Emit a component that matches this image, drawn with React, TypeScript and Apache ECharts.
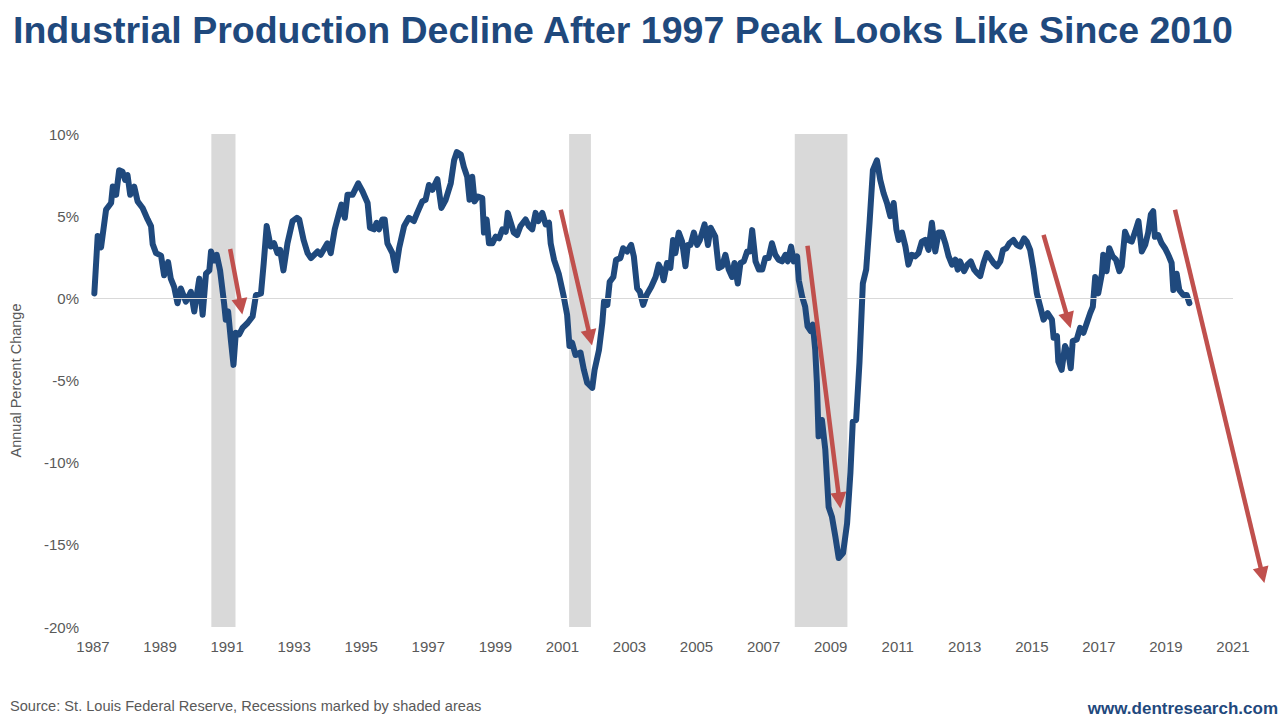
import React, { useEffect, useRef } from "react";
import * as echarts from "echarts";

const TITLE = "Industrial Production Decline After 1997 Peak Looks Like Since 2010";
const SOURCE = "Source: St. Louis Federal Reserve, Recessions marked by shaded areas";
const SITE = "www.dentresearch.com";
const Y_NAME = "Annual Percent Change";

// time (fractional year)
const dates: number[] = [
  1987.04, 1987.14, 1987.24, 1987.39, 1987.54, 1987.59, 1987.69, 1987.78, 1987.88, 1987.96,
  1988.03, 1988.11, 1988.23, 1988.33, 1988.48, 1988.63, 1988.73, 1988.78, 1988.88, 1989.03,
  1989.12, 1989.24, 1989.32, 1989.42, 1989.52, 1989.62, 1989.77, 1989.92, 1990.02, 1990.17,
  1990.27, 1990.37, 1990.47, 1990.52, 1990.61, 1990.69, 1990.79, 1990.91, 1990.96, 1991.03,
  1991.11, 1991.19, 1991.26, 1991.36, 1991.46, 1991.61, 1991.76, 1991.86, 1992.01, 1992.09,
  1992.18, 1992.3, 1992.4, 1992.5, 1992.58, 1992.68, 1992.8, 1992.95, 1993.08, 1993.15,
  1993.28, 1993.4, 1993.5, 1993.7, 1993.79, 1993.99, 1994.09, 1994.21, 1994.34, 1994.41,
  1994.51, 1994.59, 1994.74, 1994.91, 1995.04, 1995.19, 1995.26, 1995.38, 1995.46, 1995.53,
  1995.63, 1995.7, 1995.78, 1995.93, 1996.03, 1996.13, 1996.28, 1996.42, 1996.57, 1996.67,
  1996.82, 1996.92, 1997.02, 1997.12, 1997.27, 1997.39, 1997.52, 1997.67, 1997.77, 1997.85,
  1997.97, 1998.06, 1998.16, 1998.23, 1998.31, 1998.38, 1998.48, 1998.61, 1998.66, 1998.74,
  1998.81, 1998.91, 1999.01, 1999.11, 1999.21, 1999.31, 1999.37, 1999.46, 1999.55, 1999.65,
  1999.75, 1999.9, 2000.0, 2000.1, 2000.2, 2000.28, 2000.4, 2000.5, 2000.6, 2000.65,
  2000.75, 2000.89, 2001.04, 2001.14, 2001.21, 2001.29, 2001.39, 2001.54, 2001.64, 2001.74,
  2001.89, 2001.96, 2002.09, 2002.19, 2002.24, 2002.34, 2002.41, 2002.52, 2002.6, 2002.73,
  2002.81, 2002.93, 2003.05, 2003.13, 2003.23, 2003.31, 2003.41, 2003.51, 2003.65, 2003.78,
  2003.87, 2003.95, 2004.02, 2004.12, 2004.22, 2004.3, 2004.37, 2004.47, 2004.57, 2004.67,
  2004.74, 2004.82, 2004.92, 2005.02, 2005.1, 2005.24, 2005.34, 2005.42, 2005.56, 2005.66,
  2005.76, 2005.86, 2005.96, 2006.06, 2006.13, 2006.23, 2006.31, 2006.41, 2006.51, 2006.59,
  2006.66, 2006.76, 2006.86, 2006.96, 2007.05, 2007.15, 2007.25, 2007.35, 2007.45, 2007.55,
  2007.65, 2007.72, 2007.82, 2007.9, 2008.0, 2008.05, 2008.15, 2008.24, 2008.31, 2008.41,
  2008.47, 2008.54, 2008.59, 2008.64, 2008.74, 2008.84, 2008.94, 2009.04, 2009.14, 2009.24,
  2009.37, 2009.49, 2009.59, 2009.66, 2009.76, 2009.86, 2009.96, 2010.06, 2010.16, 2010.26,
  2010.38, 2010.48, 2010.58, 2010.68, 2010.78, 2010.88, 2010.96, 2011.03, 2011.13, 2011.23,
  2011.32, 2011.42, 2011.52, 2011.62, 2011.72, 2011.82, 2011.92, 2012.02, 2012.12, 2012.22,
  2012.32, 2012.42, 2012.52, 2012.62, 2012.72, 2012.79, 2012.86, 2012.98, 2013.08, 2013.18,
  2013.28, 2013.36, 2013.46, 2013.56, 2013.66, 2013.76, 2013.86, 2013.96, 2014.06, 2014.14,
  2014.24, 2014.33, 2014.45, 2014.55, 2014.65, 2014.77, 2014.85, 2014.95, 2015.05, 2015.15,
  2015.25, 2015.35, 2015.47, 2015.6, 2015.65, 2015.75, 2015.79, 2015.89, 2015.99, 2016.09,
  2016.16, 2016.22, 2016.34, 2016.44, 2016.54, 2016.64, 2016.74, 2016.82, 2016.89, 2016.98,
  2017.09, 2017.13, 2017.23, 2017.31, 2017.41, 2017.51, 2017.61, 2017.68, 2017.78, 2017.88,
  2017.98, 2018.08, 2018.18, 2018.28, 2018.38, 2018.47, 2018.55, 2018.62, 2018.67, 2018.77,
  2018.87, 2018.97, 2019.07, 2019.17, 2019.22, 2019.32, 2019.4, 2019.52, 2019.62, 2019.7,
];

// annual percent change of industrial production
const changes: number[] = [
  0.3, 3.8, 3.1, 5.4, 5.8, 6.8, 6.3, 7.8, 7.7, 7.2,
  7.5, 6.3, 6.8, 5.9, 5.5, 4.8, 4.4, 3.3, 2.75, 2.6,
  1.4, 2.2, 1.2, 0.7, -0.3, 0.6, -0.2, 0.4, -0.8, 1.2,
  -1.0, 1.5, 1.7, 2.85, 2.3, 2.65, 1.7, -0.3, -1.3, -0.8,
  -2.5, -4.05, -2.1, -2.2, -1.8, -1.5, -1.1, 0.2, 0.3, 2.1,
  4.4, 3.15, 3.35, 2.75, 2.95, 1.7, 3.35, 4.7, 4.9, 4.8,
  3.55, 2.75, 2.45, 2.85, 2.65, 3.35, 2.75, 4.2, 5.2, 5.7,
  4.9, 6.3, 6.3, 7.0, 6.5, 5.8, 4.3, 4.2, 4.6, 4.2,
  4.8, 4.8, 3.35, 2.75, 1.7, 3.05, 4.4, 4.9, 4.7, 5.2,
  5.9, 6.0, 6.9, 6.6, 7.25, 5.5, 6.0, 7.0, 8.4, 8.9,
  8.75, 8.0, 7.4, 6.0, 7.4, 5.9, 6.2, 6.1, 4.0, 4.8,
  3.35, 3.35, 3.75, 3.65, 4.2, 4.05, 5.2, 4.6, 4.0, 3.85,
  4.4, 4.8, 4.4, 4.2, 5.2, 4.7, 5.2, 4.5, 4.6, 3.35,
  2.35, 1.5, 0.1, -1.0, -2.9, -2.7, -3.45, -3.3, -4.35, -5.15,
  -5.45, -4.35, -3.15, -1.5, -0.2, -0.4, 1.0, 1.3, 2.35, 2.45,
  3.05, 2.85, 3.25, 2.55, 0.6, 0.4, -0.4, 0.2, 0.7, 1.3,
  2.05, 1.75, 1.1, 2.15, 1.85, 3.55, 2.75, 4.0, 3.45, 1.95,
  3.25, 3.25, 4.0, 3.25, 3.55, 4.5, 3.25, 4.3, 3.75, 1.85,
  1.95, 2.65, 1.75, 1.3, 2.15, 0.9, 2.15, 2.25, 2.85, 2.85,
  4.15, 2.25, 1.75, 1.75, 2.45, 2.45, 3.35, 2.65, 2.35, 2.25,
  2.65, 2.25, 3.15, 2.25, 2.55, 1.1, 0.1, -0.5, -1.7, -2.0,
  -1.6, -3.15, -5.15, -8.4, -7.4, -9.2, -12.7, -13.3, -14.5, -15.8,
  -15.5, -13.7, -10.6, -7.5, -7.4, -3.9, 0.9, 1.75, 4.6, 7.8,
  8.4, 7.2, 6.4, 5.8, 5.0, 5.8, 4.2, 3.55, 4.0, 3.15,
  2.05, 2.65, 2.55, 2.75, 3.45, 3.55, 2.95, 4.6, 2.85, 4.0,
  4.0, 3.35, 2.55, 2.05, 2.35, 1.75, 2.25, 1.65, 2.05, 2.25,
  1.75, 1.55, 1.35, 2.15, 2.75, 2.45, 2.15, 1.95, 2.25, 2.95,
  3.05, 3.35, 3.55, 3.25, 3.15, 3.65, 3.45, 2.95, 1.75, 0.3,
  -0.5, -1.3, -0.9, -1.3, -2.4, -2.3, -3.85, -4.35, -2.9, -3.35,
  -4.25, -2.6, -2.5, -1.8, -2.1, -1.5, -0.9, -0.5, 1.3, 0.3,
  1.5, 2.65, 1.65, 3.05, 2.55, 2.35, 1.65, 1.95, 4.05, 3.55,
  3.45, 4.05, 4.7, 2.85, 3.25, 4.0, 5.1, 5.3, 3.75, 3.85,
  3.35, 3.05, 2.65, 2.15, 0.5, 1.5, 0.5, 0.2, 0.2, -0.3,
];

// recession periods [start, end]
const recessionStarts: number[] = [1990.53, 2001.2, 2007.93];
const recessionEnds: number[] = [1991.25, 2001.85, 2009.5];

// arrows: start (year, %) -> tip (year, %)
const arrowStartX: number[] = [1991.09, 2000.95, 2008.31, 2015.35, 2019.27];
const arrowStartY: number[] = [3.0, 5.39, 3.2, 3.86, 5.39];
const arrowEndX: number[] = [1991.41, 2001.83, 2009.26, 2016.09, 2021.88];
const arrowEndY: number[] = [-0.5, -2.4, -12.3, -1.35, -16.85];

const X_MIN = 1987;
const X_MAX = 2021;
const Y_MIN = -20;
const Y_MAX = 10;

const BLUE = "#1F497D";
const RED = "#C0504D";
const GREY_TEXT = "#595959";
const FONT = "Liberation Sans, Arial, sans-serif";

export default function App() {
  const ref = useRef<HTMLDivElement>(null);

  useEffect(() => {
    if (!ref.current) return;
    const chart = echarts.init(ref.current, undefined, { renderer: "svg" });

    const lineData = dates.map((d, i) => [d, changes[i]]);
    const areas = recessionStarts.map((s, i) => [{ xAxis: s }, { xAxis: recessionEnds[i] }]);
    const arrows = arrowStartX.map((x, i) => ({
      coords: [
        [x, arrowStartY[i]],
        [arrowEndX[i], arrowEndY[i]],
      ],
    }));

    chart.setOption({
      animation: false,
      backgroundColor: "#ffffff",
      textStyle: { fontFamily: FONT },
      title: {
        text: TITLE,
        left: 8,
        top: 6,
        textStyle: { fontFamily: FONT, fontWeight: "bold", fontSize: 37.5, color: BLUE },
      },
      grid: { left: 92, right: 47, top: 134, bottom: 93, containLabel: false },
      xAxis: {
        type: "value",
        min: X_MIN,
        max: X_MAX,
        interval: 2,
        axisLine: { show: false },
        axisTick: { show: false },
        splitLine: { show: false },
        axisLabel: {
          color: GREY_TEXT,
          fontSize: 15,
          margin: 12,
          fontFamily: FONT,
          formatter: (v: number) => String(v),
        },
      },
      yAxis: {
        type: "value",
        min: Y_MIN,
        max: Y_MAX,
        interval: 5,
        name: Y_NAME,
        nameLocation: "middle",
        nameGap: 70,
        nameTextStyle: { color: GREY_TEXT, fontSize: 14.5, fontFamily: FONT },
        axisLine: { show: false },
        axisTick: { show: false },
        splitLine: { show: false },
        axisLabel: {
          color: GREY_TEXT,
          fontSize: 15,
          margin: 14,
          fontFamily: FONT,
          formatter: (v: number) => `${v}%`,
        },
      },
      series: [
        {
          type: "line",
          data: lineData,
          showSymbol: false,
          symbol: "none",
          z: 3,
          lineStyle: { color: BLUE, width: 6, join: "round", cap: "round" },
          markArea: {
            silent: true,
            itemStyle: { color: "#D9D9D9" },
            data: areas,
          },
          markLine: {
            silent: true,
            symbol: "none",
            label: { show: false },
            lineStyle: { color: "#D9D9D9", width: 1, type: "solid" },
            data: [{ yAxis: 0 }],
          },
        },
        {
          type: "lines",
          coordinateSystem: "cartesian2d",
          clip: false,
          z: 5,
          symbol: ["none", "triangle"],
          symbolSize: [0, 16],
          lineStyle: { color: RED, width: 4.5, opacity: 1, curveness: 0 },
          itemStyle: { color: RED },
          data: arrows,
        },
      ],
      graphic: [
        {
          type: "text",
          left: 10,
          top: 698,
          style: { text: SOURCE, fill: GREY_TEXT, font: `14.6px ${FONT}` },
        },
        {
          type: "text",
          right: 2,
          top: 700,
          style: { text: SITE, fill: BLUE, font: `bold 17px ${FONT}` },
        },
      ],
    });

    return () => chart.dispose();
  }, []);

  return (
    <div
      ref={ref}
      style={{ position: "fixed", left: 0, top: 0, width: 1280, height: 720 }}
    />
  );
}
